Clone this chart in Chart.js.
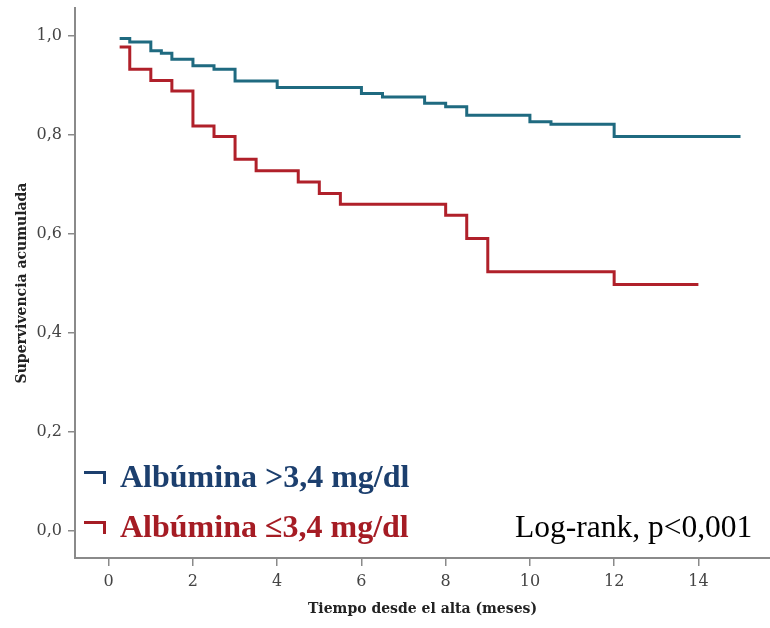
<!DOCTYPE html>
<html lang="es">
<head>
<meta charset="utf-8">
<title>Supervivencia acumulada según albúmina</title>
<script src="https://cdn.jsdelivr.net/npm/chart.js@4"></script>
<style>
  body { margin: 0; background: #fff; }
  #wrap { position: relative; width: 770px; height: 628px; }
  .note { position: absolute; white-space: nowrap; font-family: "Liberation Serif", "Times New Roman", serif; font-size: 31.5px; line-height: 31px; }
  .leg { font-weight: bold; font-size: 32px; }
  .sym { position: absolute; width: 19px; height: 10px; border-top: 3px solid; border-right: 3px solid; }
</style>
</head>
<body>
<div id="wrap">
  <canvas id="kmChart"></canvas>
  <div class="sym" style="left:84px; top:471px; border-color:#1c3f6e;"></div>
  <div class="sym" style="left:84px; top:521px; border-color:#a51c24;"></div>
  <div class="note leg" style="left:120px; top:461px; color:#1c3f6e;">Albúmina &gt;3,4 mg/dl</div>
  <div class="note leg" style="left:120px; top:511px; color:#a51c24;">Albúmina ≤3,4 mg/dl</div>
  <div class="note" style="left:515px; top:511px; color:#000;">Log-rank, p&lt;0,001</div>
</div>
<script>
// Kaplan-Meier steps (months, cumulative survival)
const HIGH_T = [0.26, 0.5, 1.0, 1.25, 1.5, 2.0, 2.5, 3.0, 4.0, 6.0, 6.5, 7.5, 8.0, 8.5, 10.0, 10.5, 12.0, 15.0];
const HIGH_S = [0.995, 0.988, 0.970, 0.965, 0.953, 0.940, 0.933, 0.909, 0.896, 0.884, 0.877, 0.864, 0.857, 0.840, 0.827, 0.822, 0.797, 0.797];

const LOW_T = [0.26, 0.5, 1.0, 1.5, 2.0, 2.5, 3.0, 3.5, 4.5, 5.0, 5.5, 8.0, 8.5, 9.0, 12.0, 14.0];
const LOW_S = [0.978, 0.933, 0.910, 0.889, 0.818, 0.797, 0.751, 0.728, 0.705, 0.682, 0.660, 0.638, 0.591, 0.524, 0.498, 0.498];

// Axis ticks
const X_TICKS = [0, 2, 4, 6, 8, 10, 12, 14];
const Y_TICKS = [0, 0.2, 0.4, 0.6, 0.8, 1.0];

const AXIS_GREY = "#8a8a8a";
const tickFont = { family: "'DejaVu Serif', serif", size: 16 };
const titleFont = { family: "'DejaVu Serif', serif", size: 14, weight: "bold" };

function toPoints(ts, ss) {
  return ts.map((t, i) => ({ x: t, y: ss[i] }));
}

new Chart(document.getElementById("kmChart"), {
  type: "line",
  data: {
    datasets: [
      {
        label: "Albúmina >3,4 mg/dl",
        data: toPoints(HIGH_T, HIGH_S),
        borderColor: "#1f6a80",
        borderWidth: 3,
        stepped: "before",
        pointRadius: 0,
        fill: false
      },
      {
        label: "Albúmina ≤3,4 mg/dl",
        data: toPoints(LOW_T, LOW_S),
        borderColor: "#b0202a",
        borderWidth: 3,
        stepped: "before",
        pointRadius: 0,
        fill: false
      }
    ]
  },
  options: {
    responsive: true,
    maintainAspectRatio: false,
    animation: false,
    layout: { padding: { top: 8, right: 0, left: 0, bottom: 0 } },
    scales: {
      x: {
        type: "linear",
        min: -0.8,
        max: 15.7,
        afterBuildTicks: s => { s.ticks = X_TICKS.map(v => ({ value: v })); },
        afterFit: s => { s.height = 70; s.paddingLeft = 0; s.paddingRight = 0; },
        ticks: { font: tickFont, color: "#444", padding: 6, maxRotation: 0 },
        grid: { drawOnChartArea: false, drawTicks: true, tickLength: 8, color: AXIS_GREY, lineWidth: 1.5 },
        border: { display: true, color: AXIS_GREY, width: 2 },
        title: { display: true, text: "Tiempo desde el alta (meses)", font: titleFont, color: "#222", padding: { top: 4, bottom: 10 } }
      },
      y: {
        type: "linear",
        min: -0.0545,
        max: 1.0566,
        afterBuildTicks: s => { s.ticks = Y_TICKS.map(v => ({ value: v })); },
        afterFit: s => { s.width = 75; s.paddingTop = 0; s.paddingBottom = 0; },
        ticks: {
          font: tickFont,
          color: "#444",
          padding: 6,
          callback: v => v.toFixed(1).replace(".", ",")
        },
        grid: { drawOnChartArea: false, drawTicks: true, tickLength: 7, color: AXIS_GREY, lineWidth: 1.5 },
        border: { display: true, color: AXIS_GREY, width: 2 },
        title: { display: true, text: "Supervivencia acumulada", font: titleFont, color: "#222", padding: { top: 14, bottom: 0 } }
      }
    },
    plugins: {
      legend: { display: false },
      tooltip: { enabled: false }
    }
  }
});
</script>
</body>
</html>
